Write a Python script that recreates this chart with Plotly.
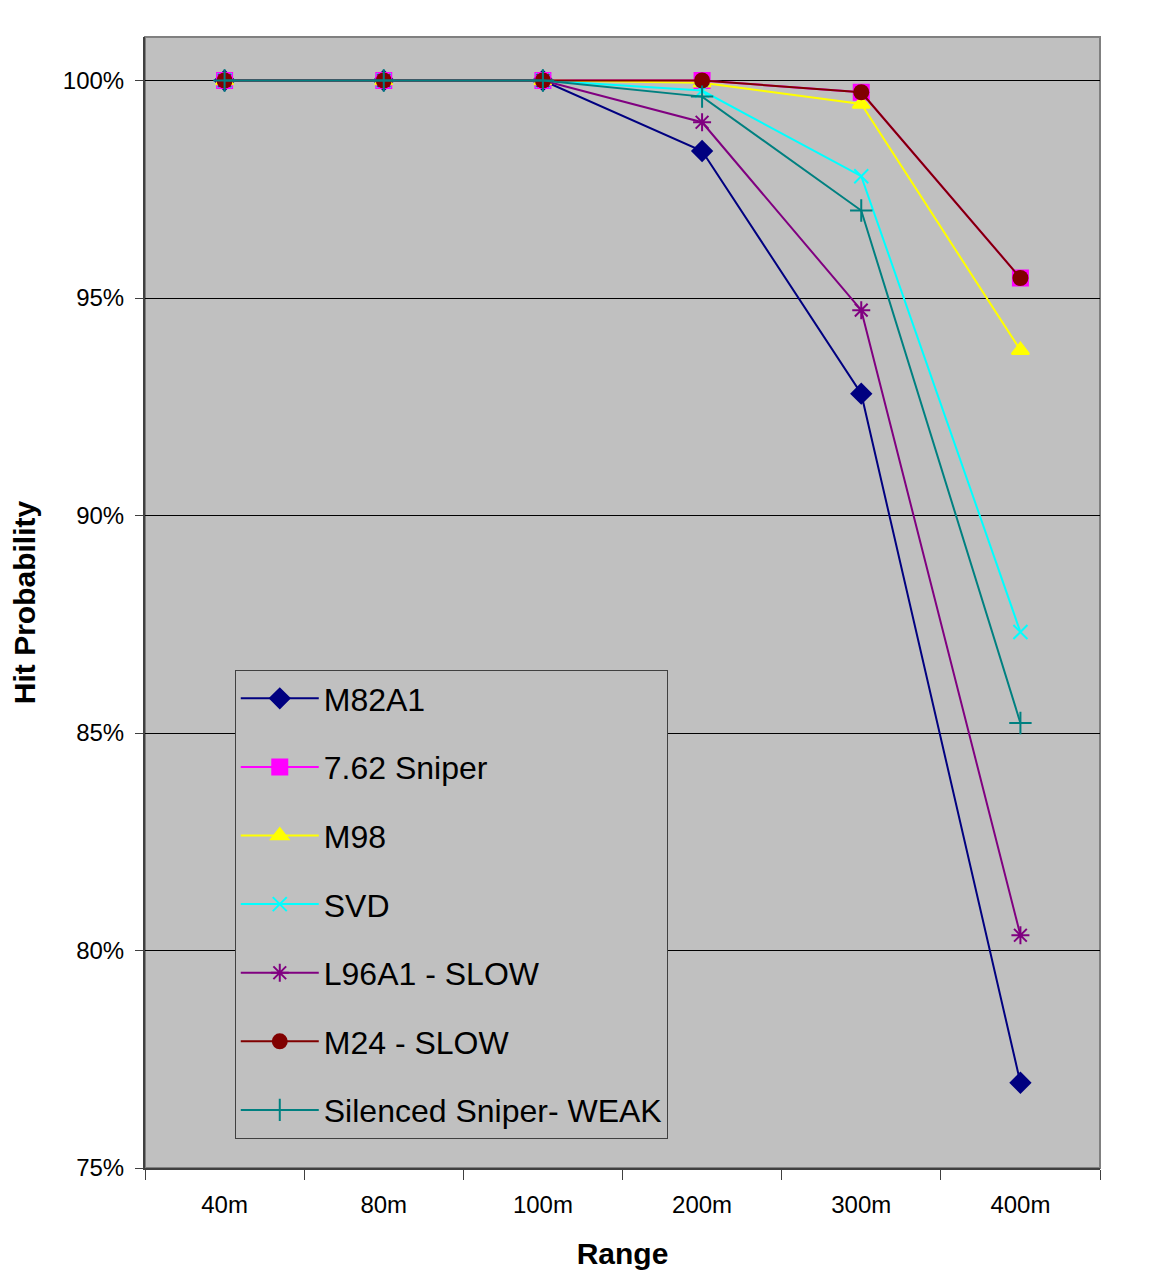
import plotly.graph_objects as go

ranges = ["40m", "80m", "100m", "200m", "300m", "400m"]
series_names = ["M82A1", "7.62 Sniper", "M98", "SVD", "L96A1 - SLOW", "M24 - SLOW", "Silenced Sniper- WEAK"]
m82a1 = [100, 100, 100, 98.38, 92.80, 76.96]
sniper762 = [100, 100, 100, 100, 99.73, 95.46]
m98 = [100, 100, 100, 99.95, 99.46, 93.80]
svd = [100, 100, 100, 99.77, 97.80, 87.32]
l96a1 = [100, 100, 100, 99.04, 94.72, 80.35]
m24 = [100, 100, 100, 100, 99.73, 95.46]
silenced = [100, 100, 100, 99.63, 97.01, 85.23]

values = [m82a1, sniper762, m98, svd, l96a1, m24, silenced]
colors = ["#000080", "#FF00FF", "#FFFF00", "#00FFFF", "#800080", "#800000", "#008080"]
symbols = ["diamond", "square", "triangle-up", "x-thin-open", "asterisk-open", "circle", "cross-thin-open"]
sizes = [15, 15, 15, 14, 15, 16, 16]

fig = go.Figure()
for i, (name, vals) in enumerate(zip(series_names, values)):
    fig.add_trace(go.Scatter(
        x=ranges, y=vals, name=name, mode="lines+markers",
        legendgroup=f"g{i}",
        line=dict(color=colors[i], width=2),
        marker=dict(symbol=symbols[i], size=sizes[i], color=colors[i],
                    line=dict(color=colors[i], width=2 if i != 5 else 0)),
    ))

fig.update_layout(
    width=1142, height=1268,
    margin=dict(l=137, r=50, t=29, b=108),
    paper_bgcolor="white",
    plot_bgcolor="#C0C0C0",
    font=dict(family="Liberation Sans, Arial, sans-serif", color="black", size=24),
    showlegend=True,
    legend=dict(
        x=0.094, y=0.4403, xanchor="left", yanchor="top",
        bgcolor="#C0C0C0", bordercolor="#404040", borderwidth=1,
        font=dict(size=32, family="Liberation Sans, Arial, sans-serif"),
        tracegroupgap=24, traceorder="grouped", itemwidth=78,
    ),
    xaxis=dict(
        type="category", range=[-0.5, 5.5], automargin=False,
        showline=True, linecolor="#404040", linewidth=2, mirror=False,
        ticks="outside", tickson="boundaries", ticklen=10, tickcolor="#404040",
        showgrid=False, ticklabelstandoff=14,
        tickfont=dict(size=24),
        title=dict(text="<b>Range</b>", font=dict(size=30), standoff=26),
    ),
    yaxis=dict(
        range=[75, 101], automargin=False,
        tickvals=[75, 80, 85, 90, 95, 100],
        ticktext=["75%", "80%", "85%", "90%", "95%", "100%"],
        showline=True, linecolor="#404040", linewidth=2,
        ticks="outside", ticklen=8, tickcolor="#404040", ticklabelstandoff=6,
        showgrid=True, gridcolor="black", gridwidth=1,
        zeroline=False,
        tickfont=dict(size=24),
        title=dict(text="<b>Hit Probability</b>", font=dict(size=30), standoff=20),
    ),
    shapes=[dict(type="rect", xref="paper", yref="paper", x0=0, x1=1, y0=0, y1=1,
                 line=dict(color="#808080", width=2), layer="below")],
)

fig.write_html("out.html")
